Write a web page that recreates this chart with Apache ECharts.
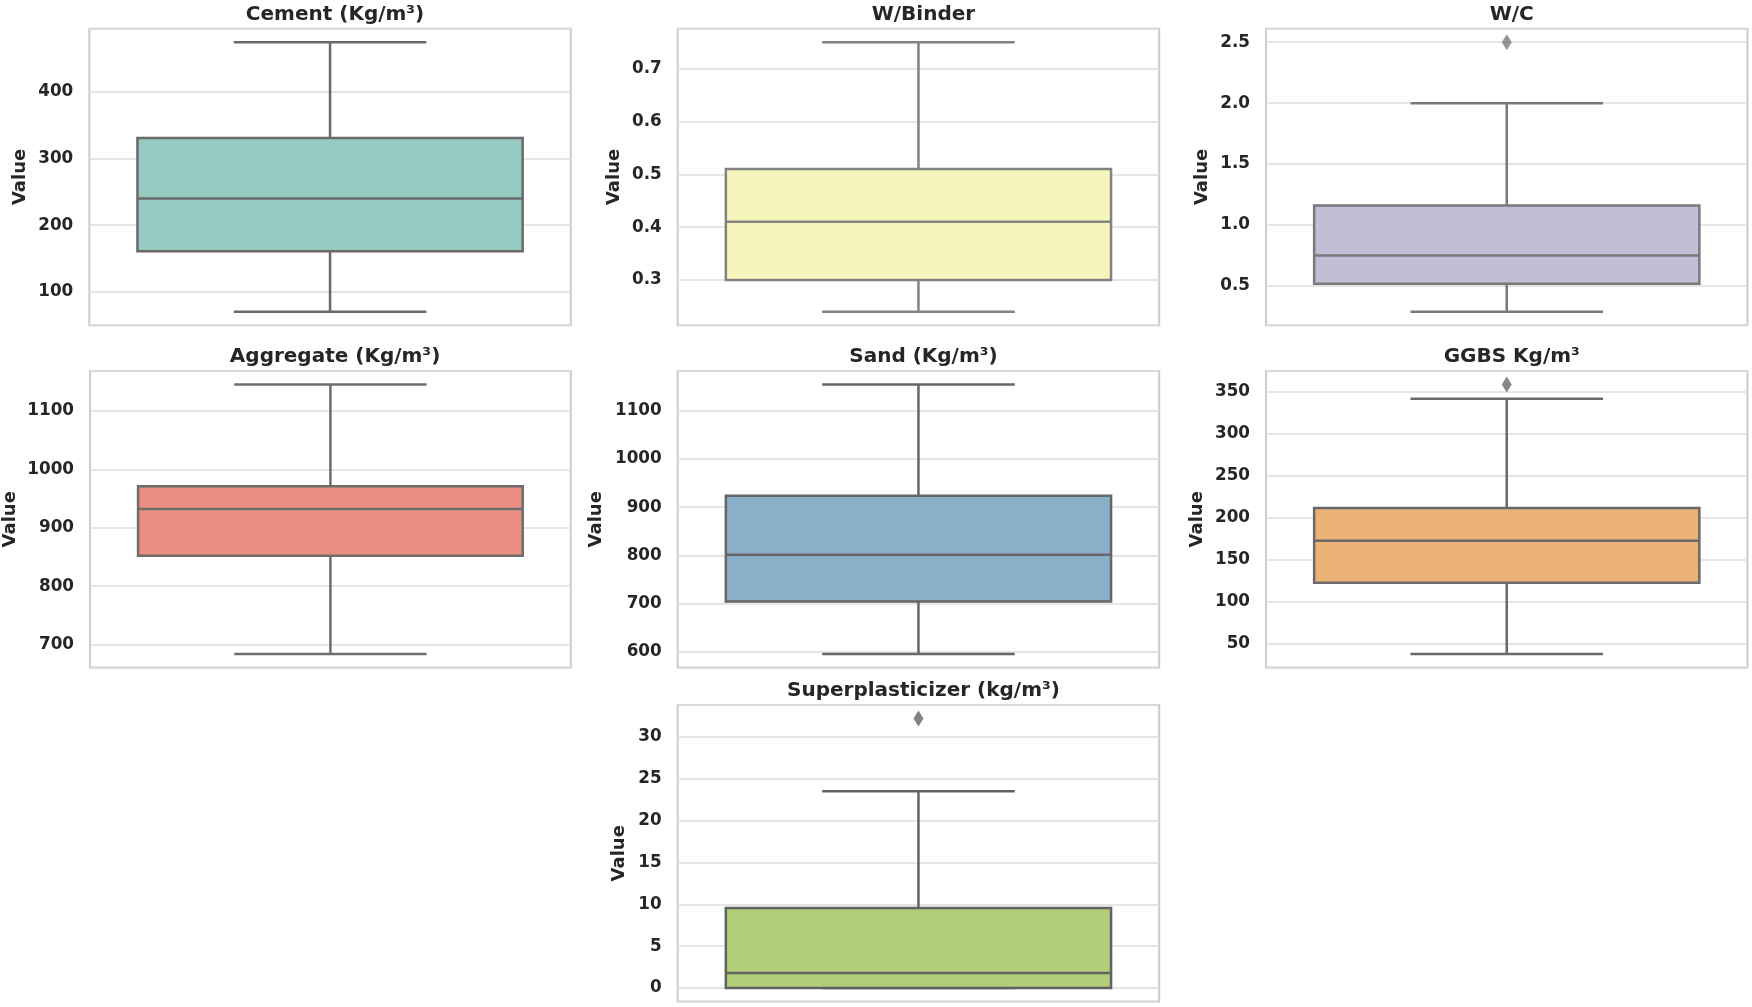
<!DOCTYPE html>
<html><head><meta charset="utf-8">
<script src="https://cdn.jsdelivr.net/npm/echarts@6/dist/echarts.min.js"></script>
<style>html,body{margin:0;padding:0;background:#fff}#c{width:1752px;height:1007px}</style>
</head><body><div id="c"></div>
<script>
// ---- data ----
const titles = ['Cement (Kg/m³)', 'W/Binder', 'W/C', 'Aggregate (Kg/m³)', 'Sand (Kg/m³)', 'GGBS Kg/m³', 'Superplasticizer (kg/m³)'];
const whiskerLow  = [70, 0.24, 0.29, 684, 595, 38, 0];
const q1          = [161, 0.30, 0.52, 852, 704, 123, 0];
const median      = [240, 0.41, 0.75, 932, 801, 173, 1.8];
const q3          = [331, 0.51, 1.16, 971, 924, 212, 9.55];
const whiskerHigh = [475, 0.75, 2.0, 1145, 1155, 342, 23.5];
const outliers    = [[], [], [2.5], [], [], [359], [32.2]];
const tickStep    = [100, 0.1, 0.5, 100, 100, 50, 5];
const tickDecimals= [0, 1, 1, 0, 0, 0, 0];

// ---- styles / layout ----
const fills = ['#96cac1', '#f6f6bc', '#c1bed6', '#ea8e83', '#8aafc9', '#eab375', '#afcf78'];
const grays = ['#6a6a6a', '#828282', '#797979', '#6d6d6d', '#666666', '#696969', '#626262'];
const panelLeft = [89.3, 677.7, 1266, 89.3, 677.7, 1266, 677.7];
const panelTop  = [28.7, 28.7, 28.7, 371, 371, 371, 705];
const PW = 481.5, PH = 296.5;
const nameGaps = [60, 54, 55, 71, 72, 60, 49];
const FONT = 'DejaVu Sans';
const TXT = '#262626';

const grid = [], xAxis = [], yAxis = [], series = [], title = [];
titles.forEach((t, i) => {
  const all = [whiskerLow[i], whiskerHigh[i]].concat(outliers[i]);
  const lo = Math.min(...all), hi = Math.max(...all);
  const pad = (hi - lo) * 0.05;
  const step = tickStep[i], dec = tickDecimals[i];
  grid.push({left: panelLeft[i], top: panelTop[i], width: PW, height: PH, show: true,
    borderColor: '#cccccc', borderWidth: 2, backgroundColor: 'transparent', containLabel: false});
  title.push({text: t, left: panelLeft[i] + PW / 2, top: panelTop[i] - 29, textAlign: 'center',
    textStyle: {fontFamily: FONT, fontWeight: 'bold', fontSize: 20, color: TXT}});
  xAxis.push({gridIndex: i, type: 'category', data: [''], boundaryGap: true,
    axisLine: {show: false}, axisTick: {show: false}, axisLabel: {show: false}, splitLine: {show: false}});
  yAxis.push({gridIndex: i, type: 'value', min: lo - pad, max: hi + pad,
    minInterval: step, maxInterval: step,
    axisLine: {show: false}, axisTick: {show: false},
    axisLabel: {fontFamily: FONT, fontWeight: 'bold', fontSize: 16.8, color: TXT, margin: 16,
      formatter: v => Math.abs(v / step - Math.round(v / step)) < 1e-6 ? v.toFixed(dec) : ''},
    splitLine: {lineStyle: {color: '#dedede', width: 1.5}},
    name: 'Value', nameLocation: 'middle', nameGap: nameGaps[i],
    nameTextStyle: {fontFamily: FONT, fontWeight: 'bold', fontSize: 18, color: TXT}});
  const gray = grays[i], fill = fills[i];
  series.push({type: 'custom', xAxisIndex: i, yAxisIndex: i, clip: false,
    data: [[0, whiskerLow[i], q1[i], median[i], q3[i], whiskerHigh[i]]],
    encode: {x: 0, y: [1, 2, 3, 4, 5]},
    renderItem: (params, api) => {
      const cx = api.coord([0, api.value(3)])[0];
      const band = api.size([1, 0])[0];
      const bw = band * 0.8, half = bw / 2, capHalf = bw / 4;
      const yLo = api.coord([0, api.value(1)])[1];
      const yQ1 = api.coord([0, api.value(2)])[1];
      const yMed = api.coord([0, api.value(3)])[1];
      const yQ3 = api.coord([0, api.value(4)])[1];
      const yHi = api.coord([0, api.value(5)])[1];
      const ls = {stroke: gray, lineWidth: 2.5, lineCap: 'butt'};
      return {type: 'group', children: [
        {type: 'line', shape: {x1: cx, y1: yQ1, x2: cx, y2: yLo}, style: ls},
        {type: 'line', shape: {x1: cx, y1: yQ3, x2: cx, y2: yHi}, style: ls},
        {type: 'line', shape: {x1: cx - capHalf, y1: yLo, x2: cx + capHalf, y2: yLo}, style: ls},
        {type: 'line', shape: {x1: cx - capHalf, y1: yHi, x2: cx + capHalf, y2: yHi}, style: ls},
        {type: 'rect', shape: {x: cx - half, y: yQ3, width: bw, height: yQ1 - yQ3},
          style: {fill: fill, stroke: gray, lineWidth: 2.5}},
        {type: 'line', shape: {x1: cx - half, y1: yMed, x2: cx + half, y2: yMed}, style: ls}
      ]};
    }
  });
  if (outliers[i].length) {
    series.push({type: 'scatter', xAxisIndex: i, yAxisIndex: i,
      data: outliers[i].map(v => [0, v]), symbol: 'diamond', symbolSize: [10, 16],
      itemStyle: {color: gray}, silent: true});
  }
});

const chart = echarts.init(document.getElementById('c'), null, {renderer: 'canvas'});
chart.setOption({animation: false, backgroundColor: '#ffffff', title, grid, xAxis, yAxis, series});
</script></body></html>
